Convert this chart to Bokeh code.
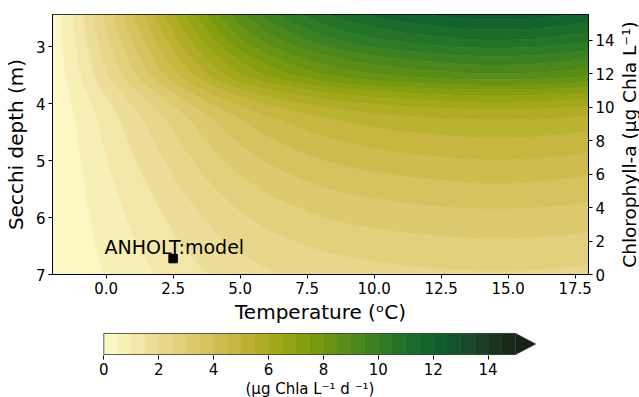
import numpy as np
from bokeh.plotting import figure
from bokeh.models import Range1d, LinearAxis, FixedTicker, Title, PrintfTickFormatter
from bokeh.layouts import column, row
from bokeh.core.properties import value
from bokeh.embed import file_html
from bokeh.resources import INLINE

# ---------------- data ----------------
temperature = [-2, -1, 0, 1, 2, 3, 4, 5, 6, 7, 8, 9, 10, 11, 12, 13, 14, 15, 16, 17, 18]
secchi_depth = [2.43, 2.88, 3.17, 3.47, 3.62, 3.76, 3.91, 4.06, 4.28, 4.65, 5.23, 5.82, 6.41, 7.00]
# production (ug Chla L-1 d-1), one row per Secchi depth, one column per temperature
production = [
    [0.12, 1.30, 2.67, 3.97, 5.27, 6.58, 7.82, 8.89, 9.72, 10.37, 10.90, 11.32, 11.61, 11.85, 12.03, 12.18, 12.26, 12.26, 12.21, 12.06, 11.85],
    [0.11, 1.17, 2.39, 3.56, 4.73, 5.89, 7.01, 7.97, 8.71, 9.29, 9.77, 10.14, 10.41, 10.62, 10.78, 10.92, 10.99, 10.99, 10.94, 10.81, 10.62],
    [0.10, 1.06, 2.17, 3.23, 4.29, 5.35, 6.36, 7.23, 7.90, 8.44, 8.87, 9.21, 9.45, 9.64, 9.78, 9.91, 9.98, 9.98, 9.93, 9.81, 9.64],
    [0.09, 0.96, 1.96, 2.91, 3.87, 4.82, 5.74, 6.52, 7.13, 7.60, 7.99, 8.30, 8.52, 8.69, 8.82, 8.93, 8.99, 8.99, 8.95, 8.85, 8.69],
    [0.08, 0.88, 1.81, 2.69, 3.57, 4.46, 5.30, 6.02, 6.58, 7.03, 7.39, 7.67, 7.87, 8.03, 8.15, 8.25, 8.31, 8.31, 8.27, 8.17, 8.03],
    [0.07, 0.79, 1.62, 2.41, 3.20, 3.99, 4.75, 5.39, 5.90, 6.29, 6.61, 6.87, 7.05, 7.19, 7.30, 7.39, 7.44, 7.44, 7.41, 7.32, 7.19],
    [0.07, 0.72, 1.46, 2.18, 2.90, 3.61, 4.30, 4.88, 5.34, 5.70, 5.99, 6.22, 6.38, 6.51, 6.61, 6.69, 6.74, 6.74, 6.71, 6.63, 6.51],
    [0.06, 0.65, 1.33, 1.98, 2.63, 3.28, 3.90, 4.43, 4.85, 5.17, 5.44, 5.64, 5.79, 5.91, 6.00, 6.08, 6.12, 6.12, 6.09, 6.02, 5.91],
    [0.05, 0.58, 1.19, 1.78, 2.36, 2.94, 3.50, 3.98, 4.35, 4.64, 4.88, 5.06, 5.19, 5.30, 5.38, 5.45, 5.49, 5.49, 5.46, 5.40, 5.30],
    [0.05, 0.52, 1.07, 1.59, 2.11, 2.64, 3.14, 3.56, 3.90, 4.16, 4.37, 4.54, 4.66, 4.75, 4.82, 4.88, 4.92, 4.92, 4.89, 4.84, 4.75],
    [0.04, 0.44, 0.91, 1.35, 1.80, 2.24, 2.67, 3.03, 3.31, 3.54, 3.72, 3.86, 3.96, 4.04, 4.10, 4.15, 4.18, 4.18, 4.16, 4.11, 4.04],
    [0.03, 0.37, 0.77, 1.14, 1.51, 1.89, 2.24, 2.55, 2.79, 2.98, 3.13, 3.25, 3.33, 3.40, 3.45, 3.50, 3.52, 3.52, 3.50, 3.46, 3.40],
    [0.03, 0.31, 0.64, 0.96, 1.27, 1.59, 1.89, 2.15, 2.35, 2.50, 2.63, 2.73, 2.80, 2.86, 2.90, 2.94, 2.96, 2.96, 2.95, 2.91, 2.86],
    [0.02, 0.26, 0.53, 0.79, 1.05, 1.30, 1.55, 1.76, 1.93, 2.06, 2.16, 2.24, 2.30, 2.35, 2.39, 2.42, 2.43, 2.43, 2.42, 2.39, 2.35],
]
levels = [i * 0.5 for i in range(31)]

temp_ticks = [0, 2.5, 5, 7.5, 10, 12.5, 15, 17.5]
secchi_ticks = [3, 4, 5, 6, 7]
chl_ticks = [0, 2, 4, 6, 8, 10, 12, 14]
cbar_ticks = [0, 2, 4, 6, 8, 10, 12, 14]

station_name = ["ANHOLT:model"]
station_temp = [2.5]
station_secchi = [6.72]

chl_label = ["Chlorophyll-a (μg Chla L⁻¹)"]

# ---------------- colours (speed-like map) ----------------
anchors = [
    (0.00, (255, 253, 205)),
    (0.10, (239, 226, 160)),
    (0.20, (224, 204, 118)),
    (0.30, (205, 185, 70)),
    (0.40, (170, 170, 30)),
    (0.50, (128, 156, 12)),
    (0.60, (82, 138, 24)),
    (0.70, (40, 119, 38)),
    (0.80, (15, 95, 46)),
    (0.90, (26, 68, 40)),
    (1.00, (23, 35, 18)),
]


def cmap(f):
    for (f0, c0), (f1, c1) in zip(anchors[:-1], anchors[1:]):
        if f <= f1:
            t = (f - f0) / (f1 - f0)
            rgb = [round(a + (b - a) * t) for a, b in zip(c0, c1)]
            return "#%02x%02x%02x" % tuple(rgb)
    return "#%02x%02x%02x" % anchors[-1][1]


nb = len(levels) - 1
band_colors = [cmap((i + 0.5) / nb) for i in range(nb)]
over_color = cmap(1.0)
level_line_colors = band_colors + [over_color]

FONT = "DejaVu Sans"
TOP, BOTTOM = 14, 49
W_LAB = 21


def style_axis(ax, tick_size="15px", label_size="20px"):
    ax.axis_line_color = "black"
    ax.axis_line_width = 1
    ax.major_tick_line_color = "black"
    ax.major_tick_line_width = 1
    ax.major_tick_in = 0
    ax.major_tick_out = 4
    ax.minor_tick_line_color = None
    ax.major_label_text_font = FONT
    ax.major_label_text_font_size = tick_size
    ax.major_label_text_color = "black"
    ax.major_label_standoff = 3
    ax.axis_label_text_font = FONT
    ax.axis_label_text_font_size = label_size
    ax.axis_label_text_font_style = "normal"
    ax.axis_label_text_color = "black"


# ---------------- main panel ----------------
p = figure(width=639 - W_LAB, height=326, x_range=Range1d(-2, 18), y_range=Range1d(7, 2.43),
           output_backend="svg", toolbar_location=None,
           min_border_left=50, min_border_right=30, min_border_top=TOP, min_border_bottom=BOTTOM,
           background_fill_color="white", border_fill_color="white")
p.grid.visible = False
p.outline_line_color = "black"
p.outline_line_width = 1

p.contour(x=temperature, y=secchi_depth, z=np.array(production), levels=levels,
          fill_color=band_colors, line_color=level_line_colors, line_width=0.8)

p.scatter(x=station_temp, y=station_secchi, marker="square", size=8.5,
          fill_color="black", line_color="black")
p.text(x=station_temp, y=station_secchi, text=station_name, x_offset=-68.5, y_offset=-11.7,
       text_align="left", text_baseline="alphabetic", text_font=value(FONT),
       text_font_size="19px", text_color="black")

p.xaxis.ticker = FixedTicker(ticks=temp_ticks)
p.xaxis.formatter = PrintfTickFormatter(format="%.1f")
p.xaxis.axis_label = "Temperature (ᵒC)"
p.yaxis.ticker = FixedTicker(ticks=secchi_ticks)
p.yaxis.axis_label = "Secchi depth (m)"
style_axis(p.xaxis[0])
style_axis(p.yaxis[0])
p.xaxis.axis_label_standoff = 3
p.yaxis.axis_label_standoff = 5

p.extra_y_ranges = {"chl": Range1d(0, 15.53)}
ax_r = LinearAxis(y_range_name="chl", ticker=FixedTicker(ticks=chl_ticks))
style_axis(ax_r)
p.add_layout(ax_r, "right")

# narrow strip to the right carrying the right-hand axis title (reads bottom-to-top)
lab = figure(width=W_LAB, height=326, x_range=Range1d(0, 1), y_range=Range1d(0, 1),
             output_backend="svg", toolbar_location=None,
             x_axis_location=None, y_axis_location=None,
             min_border_left=0, min_border_right=0, min_border_top=TOP, min_border_bottom=BOTTOM,
             background_fill_color="white", border_fill_color="white")
lab.grid.visible = False
lab.outline_line_color = None
lab.text(x=[0.52], y=[0.5], text=chl_label, angle=float(np.pi / 2),
         text_align="center", text_baseline="middle", text_font=value(FONT),
         text_font_size="18.5px", text_color="black")

# ---------------- colour bar ----------------
BL, BR = 50, 51
px_per_unit = 27.45
cb_x0 = -(103.3 - BL) / px_per_unit
cb_x1 = (639 - BR - 103.3) / px_per_unit
tip = 15.73
cb = figure(width=639, height=71, x_range=Range1d(cb_x0, cb_x1), y_range=Range1d(-0.045, 1.045),
            output_backend="svg", toolbar_location=None, y_axis_location=None,
            min_border_left=BL, min_border_right=BR, min_border_top=6, min_border_bottom=41,
            background_fill_color="white", border_fill_color="white")
cb.grid.visible = False
cb.outline_line_color = None
cb.quad(left=levels[:-1], right=levels[1:], bottom=0, top=1,
        fill_color=band_colors, line_color=band_colors, line_width=0.5)
cb.patch([levels[-1], tip, levels[-1]], [0, 0.5, 1], fill_color=over_color, line_color=None)
cb.line([0, levels[-1], tip, levels[-1], 0, 0], [0, 0, 0.5, 1, 1, 0],
        line_color="#333333", line_width=0.8)
cb.xaxis.ticker = FixedTicker(ticks=cbar_ticks)
style_axis(cb.xaxis[0])
cb.xaxis.axis_line_color = None
cb.add_layout(Title(text="(μg Chla L⁻¹ d ⁻¹)", align="left", offset=195,
                    text_font=FONT, text_font_size="15px", text_font_style="normal",
                    text_color="black", standoff=0), "below")

layout = column(row(p, lab, spacing=0), cb, spacing=0)
open("out.html", "w").write(file_html(layout, INLINE))
